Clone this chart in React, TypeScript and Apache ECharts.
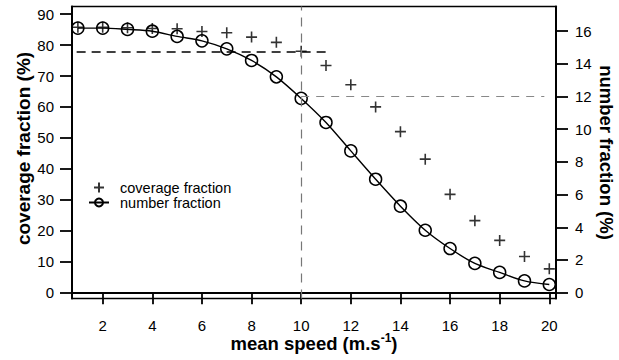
import React, { useEffect, useRef } from 'react';
import * as echarts from 'echarts';

const speeds = [1, 2, 3, 4, 5, 6, 7, 8, 9, 10, 11, 12, 13, 14, 15, 16, 17, 18, 19, 20];
const coverageFraction = [85.8, 85.8, 85.6, 85.4, 85.3, 84.4, 84.0, 82.6, 80.9, 78.0, 73.4, 67.2, 60.0, 52.0, 43.1, 31.7, 23.2, 16.8, 11.6, 7.6];
const numberFraction = [16.18, 16.18, 16.1, 15.99, 15.67, 15.4, 14.91, 14.2, 13.2, 11.88, 10.41, 8.67, 6.94, 5.29, 3.82, 2.7, 1.79, 1.24, 0.72, 0.5];
const xTicks = [2, 4, 6, 8, 10, 12, 14, 16, 18, 20];
const leftTicks = [0, 10, 20, 30, 40, 50, 60, 70, 80, 90];
const rightTicks = [0, 2, 4, 6, 8, 10, 12, 14, 16];
const refSpeed = 10;
const refCoverage = 78.0;
const refNumber = 12;

const FONT = 'Liberation Sans, Arial, sans-serif';

export default function App() {
  const ref = useRef<HTMLDivElement>(null);
  useEffect(() => {
    const chart = echarts.init(ref.current as HTMLDivElement, null, { renderer: 'svg' });
    const axisLineStyle = { color: '#000', width: 2 };
    const tickStyle = { color: '#000', width: 1.8 };
    chart.setOption({
      animation: false,
      backgroundColor: '#fff',
      textStyle: { fontFamily: FONT },
      grid: {
        left: 72, right: 63, top: 6.5, bottom: 61.5,
        containLabel: false,
        outerBoundsMode: 'none',
        show: true, borderColor: '#000', borderWidth: 1.5, backgroundColor: 'transparent',
      },
      legend: {
        orient: 'vertical',
        left: 88, top: 180,
        padding: 0,
        itemWidth: 20, itemHeight: 10, itemGap: 0,
        textStyle: { fontSize: 14.5, color: '#000', fontFamily: FONT, padding: [0, 0, 0, 6] },
        data: ['coverage fraction', 'number fraction'],
      },
      xAxis: {
        type: 'value', min: 0.763, max: 20.27,
        name: 'mean speed (m.s{sup|-1})',
        nameLocation: 'middle', nameGap: 33, nameMoveOverlap: false,
        nameTextStyle: {
          fontSize: 18.5, fontWeight: 'bold', color: '#000', fontFamily: FONT,
          rich: { sup: { fontSize: 12, fontWeight: 'bold', color: '#000', fontFamily: FONT, padding: [0, 0, 12, 0] } },
        },
        axisLine: { show: true, lineStyle: axisLineStyle },
        axisTick: { show: true, inside: false, length: 12, customValues: xTicks, lineStyle: tickStyle },
        axisLabel: { customValues: xTicks, margin: 19, fontSize: 15, color: '#000', fontFamily: FONT },
        splitLine: { show: false },
      },
      yAxis: [
        {
          type: 'value', min: -2.0, max: 92.5, position: 'left',
          name: 'coverage fraction (%)', nameLocation: 'middle', nameGap: 39, nameRotate: 90, nameMoveOverlap: false,
          nameTextStyle: { fontSize: 19, fontWeight: 'bold', color: '#000', fontFamily: FONT, padding: [0, 0, 0, 8] },
          axisLine: { show: true, lineStyle: axisLineStyle },
          axisTick: { show: true, inside: false, length: 12, customValues: leftTicks, lineStyle: tickStyle },
          axisLabel: { customValues: leftTicks, margin: 18, fontSize: 15, color: '#000', fontFamily: FONT },
          splitLine: { show: false },
        },
        {
          type: 'value', min: -0.355, max: 17.5, position: 'right',
          name: 'number fraction (%)', nameLocation: 'middle', nameGap: 41, nameRotate: -90, nameMoveOverlap: false,
          nameTextStyle: { fontSize: 18.5, fontWeight: 'bold', color: '#000', fontFamily: FONT },
          axisLine: { show: true, lineStyle: axisLineStyle },
          axisTick: { show: true, inside: false, length: 12, customValues: rightTicks, lineStyle: tickStyle },
          axisLabel: { customValues: rightTicks, margin: 19, fontSize: 15, color: '#000', fontFamily: FONT },
          splitLine: { show: false },
        },
      ],
      series: [
        {
          name: 'coverage fraction',
          type: 'scatter',
          yAxisIndex: 0,
          symbol: 'path://M0,5L10,5M5,0L5,10',
          symbolSize: 11,
          itemStyle: { color: 'transparent', borderColor: '#000', borderWidth: 1.6 },
          data: speeds.map((s, i) => [s, coverageFraction[i]]),
          markLine: {
            silent: true, symbol: 'none', label: { show: false },
            lineStyle: { color: '#000', width: 1.5, type: [9, 6] },
            data: [[{ coord: [0.95, refCoverage] }, { coord: [11, refCoverage] }]],
          },
          z: 3,
        },
        {
          name: 'number fraction',
          type: 'line',
          yAxisIndex: 1,
          smooth: 0.3,
          symbol: 'circle',
          symbolSize: 12,
          showSymbol: true,
          lineStyle: { color: '#000', width: 1.4 },
          itemStyle: { color: 'transparent', borderColor: '#000', borderWidth: 1.5 },
          data: speeds.map((s, i) => [s, numberFraction[i]]),
          markLine: {
            silent: true, symbol: 'none', label: { show: false },
            data: [
              { xAxis: refSpeed, lineStyle: { color: '#777', width: 1.2, type: [9, 7] } },
              [
                { coord: [refSpeed, refNumber], lineStyle: { color: '#888', width: 1.2, type: [8, 7] } },
                { coord: [19.8, refNumber] },
              ],
            ],
          },
          z: 2,
        },
      ],
    });
    return () => chart.dispose();
  }, []);
  return <div ref={ref} style={{ position: 'absolute', left: 0, top: 0, width: 619, height: 360 }} />;
}
